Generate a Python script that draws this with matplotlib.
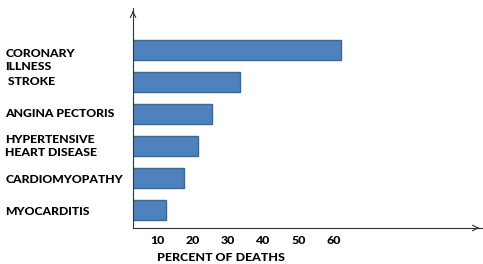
import matplotlib
matplotlib.use("Agg")
import matplotlib.pyplot as plt

plt.rcParams['font.family'] = ['Lato', 'DejaVu Sans']

labels = ['CORONARY\nILLNESS', ' STROKE', 'ANGINA PECTORIS',
          'HYPERTENSIVE\nHEART DISEASE', 'CARDIOMYOPATHY', 'MYOCARDITIS']
label_pos = [0.3, 0.96, 1.99, 2.98, 4.02, 5.02]
percent = [62, 33.5, 25.5, 21.5, 17.5, 12.5]
ticks = [10, 20, 30, 40, 50, 60]

fig = plt.figure(figsize=(4.83, 2.64), dpi=100)
ax = fig.add_axes([133 / 483, 36 / 264, 349 / 483, 220 / 264])

ypos = list(range(len(percent)))
ax.barh(ypos, percent, height=0.63, color='#4F81BD', edgecolor='#3B6696', linewidth=1)

ax.set_xlim(3.2, 101.8)
ax.set_ylim(5.55, -1.32)

for s in ['top', 'right']:
    ax.spines[s].set_visible(False)
for s in ['left', 'bottom']:
    ax.spines[s].set_color('#333333')
    ax.spines[s].set_linewidth(0.8)

ax.annotate('', xy=(1.0, 0), xytext=(0.98, 0), xycoords='axes fraction',
            arrowprops=dict(arrowstyle='->', color='#333333', lw=0.8))
ax.annotate('', xy=(0, 1.0), xytext=(0, 0.97), xycoords='axes fraction',
            arrowprops=dict(arrowstyle='->', color='#333333', lw=0.8))

ax.set_yticks([])
ax.set_xticks(ticks)
ax.set_xticklabels([str(t) for t in ticks], fontsize=8.9, fontweight='black')
ax.tick_params(axis='x', length=0, pad=5)

trans = ax.get_yaxis_transform()
for lab, y in zip(labels, label_pos):
    ax.text(-0.366, y, lab, transform=trans, ha='left', va='center',
            fontsize=8.8, fontweight='black', linespacing=1.2)

ax.set_xlabel('PERCENT OF DEATHS', fontsize=8.9, fontweight='black',
              ha='left', va='center')
ax.xaxis.set_label_coords((157 - 133) / 349, -0.136)

fig.savefig('out.png', dpi=100)
